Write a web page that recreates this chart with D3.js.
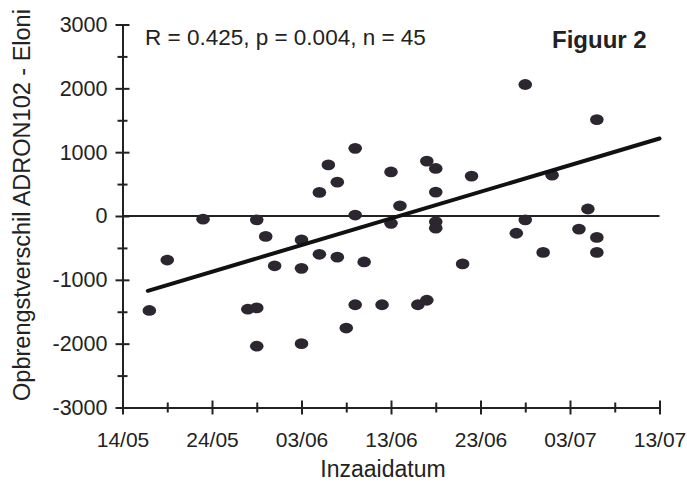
<!DOCTYPE html>
<html>
<head>
<meta charset="utf-8">
<script src="https://cdn.jsdelivr.net/npm/d3@7"></script>
<style>
  html, body { margin: 0; padding: 0; background: #fff; }
  svg { display: block; }
  text { font-family: "Liberation Sans", Arial, sans-serif; fill: #222; }
</style>
</head>
<body>
<svg id="chart" width="687" height="483"></svg>
<script>
// ---- data ----
const sowDates = [
  "17/05","19/05","23/05","28/05","29/05","29/05","29/05","30/05","31/05",
  "03/06","03/06","03/06","05/06","05/06","06/06","07/06","07/06","08/06",
  "09/06","09/06","09/06","10/06","12/06","13/06","13/06","14/06","16/06",
  "17/06","17/06","18/06","18/06","18/06","18/06","21/06","22/06","27/06",
  "28/06","28/06","30/06","01/07","04/07","05/07","06/07","06/07","06/07"
];
const yieldDiff = [
  -1480, -690, -50, -1460, -1440, -60, -2040, -320, -780,
  -375, -820, -2000, -600, 370, 800, 530, -645, -1755,
  1060, 15, -1390, -720, -1390, 690, -115, 160, -1390,
  860, -1320, 745, 375, -90, -190, -750, 625, -270,
  2060, -60, -570, 640, -205, 110, 1510, -335, -570
];
const trendDates = ["16/05 20:00", "13/07 00:00"];
const trendValues = [-1172, 1214];
const xTickLabels = ["14/05","24/05","03/06","13/06","23/06","03/07","13/07"];
const xMinorLabels = ["19/05","29/05","08/06","18/06","28/06","08/07"];
const yTicks = [-3000,-2000,-1000,0,1000,2000,3000];
const yMinorTicks = [-2500,-1500,-500,500,1500,2500];
const statsText = "R = 0.425, p = 0.004, n = 45";
const figLabel = "Figuur 2";
const xTitle = "Inzaaidatum";
const yTitle = "Opbrengstverschil ADRON102 - Eloni";

// ---- chart ----
const parseDay = d3.timeParse("%d/%m");
const parseDT = d3.timeParse("%d/%m %H:%M");
const fmt = d3.timeFormat("%d/%m");
const svg = d3.select("#chart");

const x = d3.scaleTime()
  .domain([parseDay("14/05"), parseDay("13/07")])
  .range([122.5, 659.5]);
const y = d3.scaleLinear().domain([-3000, 3000]).range([407.5, 24.5]);

const ink = "#222";

// zero line
svg.append("line")
  .attr("x1", x.range()[0]).attr("x2", x.range()[1])
  .attr("y1", y(0)).attr("y2", y(0))
  .attr("stroke", ink).attr("stroke-width", 2);

// x axis
const xAxis = svg.append("g").attr("transform", `translate(0,${y(-3000)})`)
  .call(d3.axisBottom(x).tickValues(xTickLabels.map(parseDay)).tickFormat(fmt).tickSizeOuter(0).tickSizeInner(7).tickPadding(18));
xAxis.select(".domain").attr("stroke", ink).attr("stroke-width", 2);
xAxis.selectAll(".tick line").attr("y1", -7).attr("stroke", ink).attr("stroke-width", 2);
xAxis.selectAll(".tick text").attr("font-size", 21).attr("font-family", "Liberation Sans, Arial, sans-serif").attr("fill", ink);
const xMinor = svg.append("g").attr("transform", `translate(0,${y(-3000)})`)
  .call(d3.axisBottom(x).tickValues(xMinorLabels.map(parseDay)).tickFormat("").tickSizeOuter(0).tickSizeInner(5));
xMinor.select(".domain").remove();
xMinor.selectAll(".tick line").attr("y1", -5).attr("stroke", ink).attr("stroke-width", 2);

// y axis
const yAxis = svg.append("g").attr("transform", `translate(${x.range()[0]},0)`)
  .call(d3.axisLeft(y).tickValues(yTicks).tickFormat(d => String(d)).tickSizeOuter(0).tickSizeInner(7).tickPadding(8));
yAxis.select(".domain").attr("stroke", ink).attr("stroke-width", 2);
yAxis.selectAll(".tick line").attr("x1", 7).attr("stroke", ink).attr("stroke-width", 2);
yAxis.selectAll(".tick text").attr("font-size", 21.5).attr("font-family", "Liberation Sans, Arial, sans-serif").attr("fill", ink);
const yMinor = svg.append("g").attr("transform", `translate(${x.range()[0]},0)`)
  .call(d3.axisLeft(y).tickValues(yMinorTicks).tickFormat("").tickSizeOuter(0).tickSizeInner(5));
yMinor.select(".domain").remove();
yMinor.selectAll(".tick line").attr("x1", 5).attr("stroke", ink).attr("stroke-width", 2);

// points
const pts = sowDates.map((d, i) => ({ d: parseDay(d), v: yieldDiff[i] }));
svg.append("g").selectAll("ellipse").data(pts).join("ellipse")
  .attr("cx", p => x(p.d)).attr("cy", p => y(p.v))
  .attr("rx", 6.8).attr("ry", 5.4)
  .attr("fill", "#2c2630");

// trend line
const trend = trendDates.map((d, i) => ({ d: parseDT(d), v: trendValues[i] }));
svg.append("path").datum(trend)
  .attr("d", d3.line().x(p => x(p.d)).y(p => y(p.v)))
  .attr("stroke", "#111").attr("stroke-width", 4).attr("fill", "none").attr("stroke-linecap", "round");

// texts
svg.append("text").attr("x", 145).attr("y", 45).attr("font-size", 22.5).text(statsText);
svg.append("text").attr("x", 552).attr("y", 48).attr("font-size", 24).attr("font-weight", "bold").text(figLabel);
svg.append("text").attr("x", 383).attr("y", 477).attr("text-anchor", "middle").attr("font-size", 23).text(xTitle);
svg.append("text").attr("transform", "translate(30,205) rotate(-90)").attr("text-anchor", "middle").attr("font-size", 23.5).text(yTitle);
</script>
</body>
</html>
